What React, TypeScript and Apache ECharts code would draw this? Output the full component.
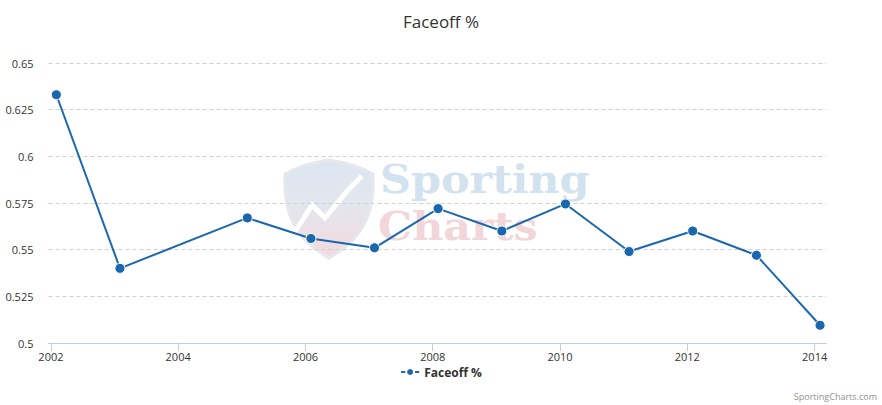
import React, { useEffect, useRef } from "react";
import * as echarts from "echarts";

const years = [2002, 2003, 2005, 2006, 2007, 2008, 2009, 2010, 2011, 2012, 2013, 2014];
const faceoff = [0.633, 0.540, 0.567, 0.556, 0.551, 0.572, 0.560, 0.5745, 0.549, 0.560, 0.547, 0.5095];
const xTickYears = [2002, 2004, 2006, 2008, 2010, 2012, 2014];
const seriesName = "Faceoff %";
const chartTitle = "Faceoff %";
const credit = "SportingCharts.com";

const FONT = "'Open Sans', 'DejaVu Sans', sans-serif";
const LINE = "#1a67ad";
const WM_FONT = "'DejaVu Serif', serif";

const shieldD =
  "M0 14 C14 6 30 2 44 0 C58 2 74 6 88 14 C90 50 80 78 44 98 C8 78 -2 50 0 14 Z";

let registered = false;
function registerShapes() {
  if (registered) return;
  registered = true;
  echarts.graphic.registerShape("shield", echarts.graphic.extendPath(shieldD, {}) as any);
}

const ts = (y: number, m: number, d: number) => Date.UTC(y, m - 1, d);

export default function App() {
  const ref = useRef<HTMLDivElement>(null);
  useEffect(() => {
    document.body.style.margin = "0";
    registerShapes();
    const chart = echarts.init(ref.current!, undefined, { renderer: "svg" });
    const data = years.map((y, i) => [ts(y, 2, 1), faceoff[i]]);
    const tickVals = xTickYears.map((y) => ts(y, 1, 1));
    chart.setOption({
      animation: false,
      backgroundColor: "#ffffff",
      title: {
        text: chartTitle,
        left: "center",
        top: 8,
        textStyle: { fontFamily: FONT, fontSize: 17, fontWeight: "normal", color: "#333333" },
      },
      legend: {
        bottom: 22,
        left: "center",
        itemWidth: 18,
        itemHeight: 10,
        textStyle: { fontFamily: FONT, fontSize: 12, fontWeight: "bold", color: "#333333" },
        data: [seriesName],
      },
      grid: { left: 48.5, right: 55.5, top: 63, bottom: 62, containLabel: false },
      xAxis: {
        type: "value",
        min: ts(2001, 12, 18),
        max: ts(2014, 3, 10),
        axisLine: { lineStyle: { color: "#c0d0e0", width: 1 } },
        axisTick: {
          show: true,
          length: 8,
          lineStyle: { color: "#c0d0e0" },
          customValues: tickVals,
        } as any,
        axisLabel: {
          customValues: tickVals,
          formatter: (v: number) => String(new Date(v).getUTCFullYear()),
          color: "#333333",
          fontFamily: FONT,
          fontSize: 11,
          margin: 8,
          showMinLabel: true,
          showMaxLabel: true,
        } as any,
        splitLine: { show: false },
      },
      yAxis: {
        type: "value",
        min: 0.5,
        max: 0.65,
        interval: 0.025,
        axisLine: { show: false },
        axisTick: { show: false },
        axisLabel: {
          color: "#333333",
          fontFamily: FONT,
          fontSize: 11,
          margin: 15,
          formatter: (v: number) => String(parseFloat(v.toFixed(3))),
        },
        splitLine: { lineStyle: { color: "#d0d0d0", type: [4, 3], width: 1 } },
      },
      graphic: [
        {
          type: "group",
          silent: true,
          z: -1,
          children: [
            {
              type: "shield",
              x: 285,
              y: 160,
              scaleX: 1,
              scaleY: 1,
              style: {
                fill: new echarts.graphic.LinearGradient(0, 0, 0, 1, [
                  { offset: 0, color: "#dce6f0" },
                  { offset: 0.45, color: "#e3e6ee" },
                  { offset: 1, color: "#f3dadd" },
                ]),
                stroke: "#e6e8ec",
                lineWidth: 3,
              },
            },
            {
              type: "polyline",
              shape: { points: [[295, 232], [312, 205], [325, 218], [348, 190], [362, 176]] },
              style: { stroke: "#ffffff", lineWidth: 5, fill: "none" },
            },
            {
              type: "text",
              x: 380,
              y: 160,
              scaleX: 1.1,
              style: {
                text: "Sporting",
                fontFamily: WM_FONT,
                fontWeight: "bold",
                fontSize: 39,
                verticalAlign: "top",
                fill: "#d3e2ef",
              },
            },
            {
              type: "text",
              x: 378,
              y: 207,
              scaleX: 1.1,
              style: {
                text: "Charts",
                fontFamily: WM_FONT,
                fontWeight: "bold",
                fontSize: 39,
                verticalAlign: "top",
                fill: "#f2d6d9",
              },
            },
          ],
        },
        {
          type: "text",
          right: 5,
          bottom: 4,
          style: { text: credit, fontFamily: FONT, fontSize: 9, fill: "#909090" },
        },
      ],
      series: [
        {
          name: seriesName,
          type: "line",
          data,
          symbol: "circle",
          symbolSize: 10,
          lineStyle: { color: LINE, width: 2 },
          itemStyle: { color: LINE, borderColor: "#ffffff", borderWidth: 1 },
          z: 3,
        },
      ],
    });
    return () => chart.dispose();
  }, []);
  return <div ref={ref} style={{ width: 882, height: 405 }} />;
}
